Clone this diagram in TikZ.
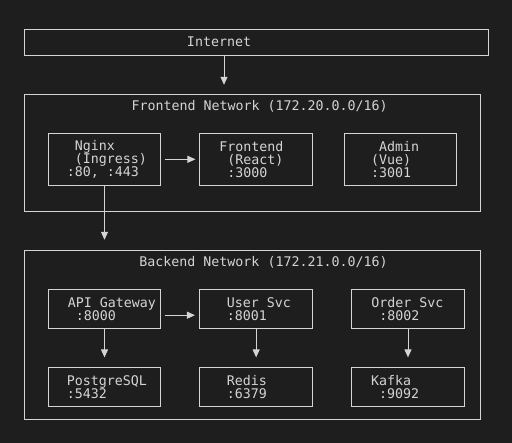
\documentclass[tikz,border=0pt]{standalone}
\usepackage{fontspec}
\setmonofont{DejaVu Sans Mono}
\usepackage{xcolor}
\usepackage{tikz}
\usetikzlibrary{arrows.meta, positioning}

\definecolor{bg}{HTML}{1E1E1E}
\definecolor{fg}{HTML}{D4D4D4}
\newcommand{\mono}{\fontsize{13.3}{13}\selectfont\ttfamily\frenchspacing\spaceskip=\fontcharwd\font`0\relax}
\newcommand{\nudge}{\hphantom{0}}

\tikzset{
  frame/.style={draw=fg, line width=1pt, inner sep=0pt, text=fg, font=\mono, align=left},
  svc/.style={frame, text width=112.4pt, minimum height=#1},
  svc/.default=39pt,
  pad/.style={execute at begin node={\leftskip=#1pt}},
  title/.style={inner sep=0pt, text=fg, font=\mono, anchor=west},
  link/.style={draw=fg, line width=1pt, -{Triangle[length=8pt, width=7pt]}},
}

\begin{document}
\begin{tikzpicture}[x=1pt, y=-1pt]
\fill[bg] (0,0) rectangle (512,443);

% internet and the two networks
\node[frame, text width=464pt, minimum height=25.7pt, pad=163] (internet) at (256,42.2) {Internet};
\node[frame, minimum width=456.3pt, minimum height=116.6pt] (frontnet) at (252.15,153) {};
\node[title] (fronttitle) at (131.3,106) {Frontend Network (172.20.0.0/16)};
\node[frame, minimum width=456.3pt, minimum height=169pt] (backnet) at (252.15,334.8) {};
\node[title] (backtitle) at (139.2,262.3) {Backend Network (172.21.0.0/16)};

% frontend services
\node[svc=52pt, pad=18.5] (nginx) at (104.5,159.3) {\nudge Nginx\\\nudge(Ingress)\\:80,\nudge:443};
\node[svc=52pt, pad=19.3] (front) at (256.15,159.3) {Frontend\\\nudge(React)\\\nudge:3000};
\node[svc=52pt, pad=27] (admin) at (400.35,159.3) {\nudge Admin\\(Vue)\\:3001};

% backend services
\node[svc, pad=19.5] (api) at (104.5,309.2) {API\nudge Gateway\\\nudge:8000};
\node[svc, pad=27] (user) at (256.15,309.2) {User\nudge Svc\\:8001};
\node[svc, pad=19.5] (order) at (408,309.2) {Order\nudge Svc\\\nudge:8002};
\node[svc, pad=18.5] (pg) at (104.5,386.7) {PostgreSQL\\:5432};
\node[svc, pad=27] (redis) at (256.15,386.7) {Redis\\:6379};
\node[svc, pad=19.3] (kafka) at (408,386.7) {Kafka\\\nudge:9092};

% links
\coordinate (drop) at (224,0);
\draw[link, shorten >=9.4pt] (internet.south -| drop) -- (frontnet.north -| drop);
\draw[link, shorten <=3.5pt, shorten >=4pt] (nginx.east) -- (front.west);
\draw[link, shorten >=10pt] (nginx.south) -- (nginx.south |- backnet.north);
\draw[link, shorten <=3.5pt, shorten >=4.5pt] ([yshift=-6pt]api.east) -- ([yshift=-6pt]user.west);
\draw[link, shorten >=9.3pt] (api.south) -- (pg.north);
\draw[link, shorten >=9.3pt] (user.south) -- (redis.north);
\draw[link, shorten >=9.3pt] (order.south) -- (kafka.north);
\end{tikzpicture}
\end{document}
